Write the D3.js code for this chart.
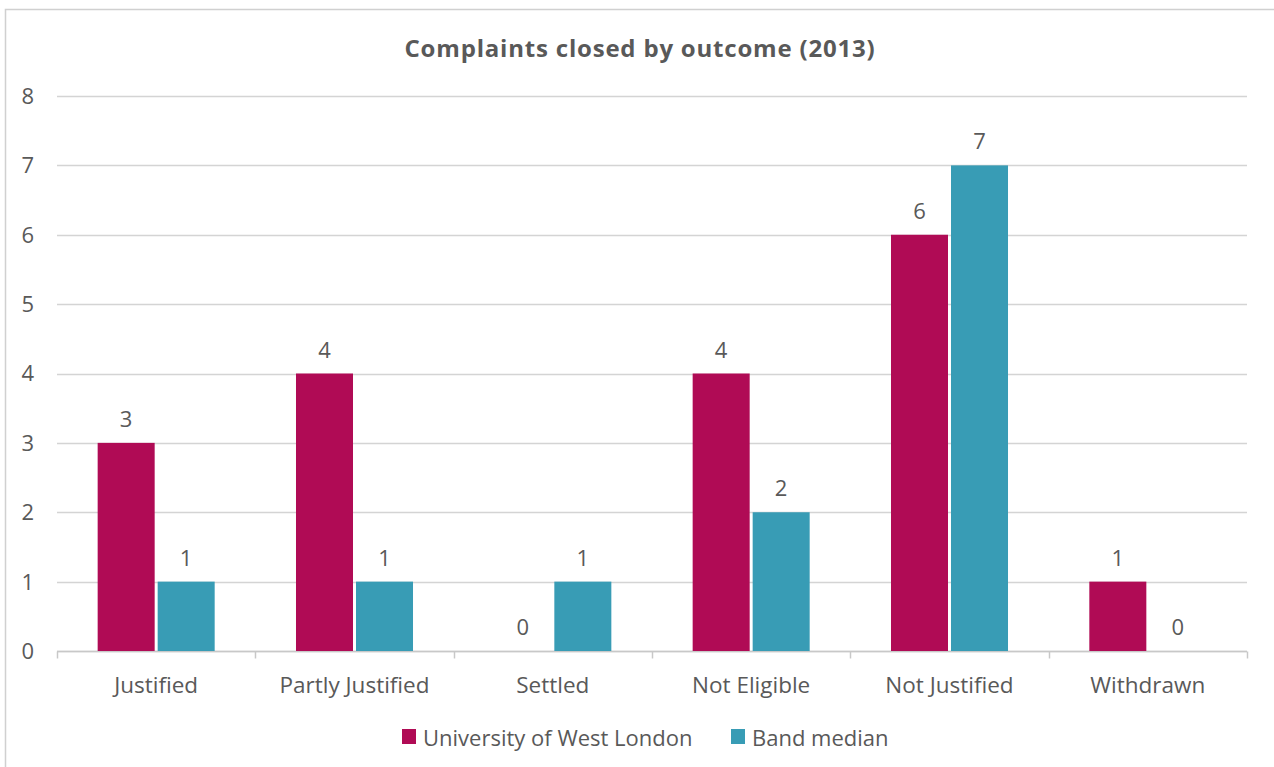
<!DOCTYPE html>
<html>
<head>
<meta charset="utf-8">
<script src="https://cdn.jsdelivr.net/npm/d3@7"></script>
<style>
  body { margin: 0; background: #fff; }
  svg { display: block; }
  text { font-family: "Open Sans", "Noto Sans", sans-serif; fill: #595959; }
</style>
</head>
<body>
<div id="chart"></div>
<script>
var categories = ["Justified", "Partly Justified", "Settled", "Not Eligible", "Not Justified", "Withdrawn"];
var series_names = ["University of West London", "Band median"];
var uwl_values = [3, 4, 0, 4, 6, 1];
var median_values = [1, 1, 1, 2, 7, 0];
var y_ticks = [0, 1, 2, 3, 4, 5, 6, 7, 8];
var colors = ["#b00b55", "#389cb5"];

var width = 1274;
var height = 767;
var plot_left = 57, plot_right = 1247;
var plot_top = 96, plot_bottom = 651;

var svg = d3.select("#chart")
            .append('svg')
            .attr('width', width)
            .attr('height', height);

// outer chart border (only top and left show in frame)
svg.append('path')
    .attr('d', 'M5.5,' + height + 'V9.5H' + width)
    .attr('fill', 'none')
    .attr('stroke', '#d0d0d0')
    .attr('stroke-width', 1.5);

var scale_x = d3.scaleBand()
            .domain(categories)
            .range([plot_left, plot_right]);
var scale_inner = d3.scaleBand()
            .domain(d3.range(series_names.length))
            .range([scale_x.bandwidth() * 0.205, scale_x.bandwidth() * 0.795])
            .paddingInner(0.05);
var scale_y = d3.scaleLinear()
            .domain([0, 8])
            .range([plot_bottom, plot_top]);

// gridlines
svg.selectAll('line.grid')
    .data(y_ticks)
    .enter()
    .append('line')
    .attr('class', 'grid')
    .attr('x1', plot_left)
    .attr('x2', plot_right)
    .attr('y1', function(d){ return Math.round(scale_y(d)) + 0.5; })
    .attr('y2', function(d){ return Math.round(scale_y(d)) + 0.5; })
    .attr('stroke', '#d4d4d4')
    .attr('stroke-width', 1.5);

// y tick labels
svg.selectAll('text.ytick')
    .data(y_ticks)
    .enter()
    .append('text')
    .attr('class', 'ytick')
    .text(function(d){ return d; })
    .attr('x', 34)
    .attr('y', function(d){ return scale_y(d); })
    .attr('dy', '0.36em')
    .attr('text-anchor', 'end')
    .attr('font-size', 22);

// x axis with tick marks between categories
var x_axis_g = svg.append('g')
    .attr('transform', 'translate(0,' + (Math.round(plot_bottom) + 0.5) + ')');
x_axis_g.append('line')
    .attr('x1', plot_left).attr('x2', plot_right)
    .attr('stroke', '#c8c8c8').attr('stroke-width', 1.5);
var boundaries = d3.range(categories.length + 1).map(function(i){
    return plot_left + i * scale_x.step();
});
x_axis_g.selectAll('line.tick')
    .data(boundaries)
    .enter()
    .append('line')
    .attr('class', 'tick')
    .attr('x1', function(d){ return Math.round(d) + 0.5; })
    .attr('x2', function(d){ return Math.round(d) + 0.5; })
    .attr('y1', 0).attr('y2', 7)
    .attr('stroke', '#c8c8c8').attr('stroke-width', 1.5);

svg.selectAll('text.xlabel')
    .data(categories)
    .enter()
    .append('text')
    .attr('class', 'xlabel')
    .text(function(d){ return d; })
    .attr('x', function(d){ return scale_x(d) + scale_x.bandwidth() / 2; })
    .attr('y', 693)
    .attr('text-anchor', 'middle')
    .attr('font-size', 22.5);

// bars
var all_series = [uwl_values, median_values];
all_series.forEach(function(values, s){
    var g = svg.append('g');
    g.selectAll('rect')
        .data(values)
        .enter()
        .append('rect')
        .attr('x', function(d, i){ return scale_x(categories[i]) + scale_inner(s); })
        .attr('y', function(d){ return scale_y(d); })
        .attr('width', scale_inner.bandwidth())
        .attr('height', function(d){ return scale_y(0) - scale_y(d); })
        .attr('fill', colors[s]);

    g.selectAll('text')
        .data(values)
        .enter()
        .append('text')
        .text(function(d){ return d; })
        .attr('x', function(d, i){
            return scale_x(categories[i]) + scale_inner(s) + scale_inner.bandwidth() / 2;
        })
        .attr('y', function(d){ return scale_y(d) - 16; })
        .attr('text-anchor', 'middle')
        .attr('font-size', 22);
});

// title
svg.append('text')
    .text('Complaints closed by outcome (2013)')
    .attr('x', 640)
    .attr('y', 57)
    .attr('text-anchor', 'middle')
    .attr('font-size', 24)
    .attr('letter-spacing', 0.8)
    .attr('font-weight', 'bold');

// legend
var legend_x = [402, 731];
series_names.forEach(function(name, s){
    svg.append('rect')
        .attr('x', legend_x[s])
        .attr('y', 729)
        .attr('width', 14)
        .attr('height', 15)
        .attr('fill', colors[s]);
    svg.append('text')
        .text(name)
        .attr('x', legend_x[s] + 21)
        .attr('y', 746)
        .attr('font-size', 22);
});
</script>
</body>
</html>
